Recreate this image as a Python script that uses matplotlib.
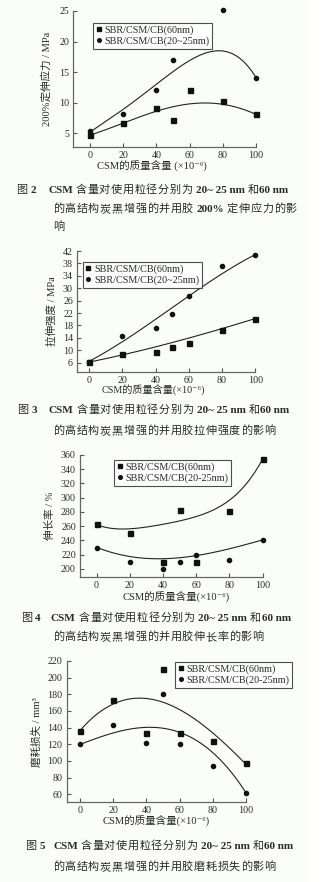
import numpy as np
import matplotlib
matplotlib.use("Agg")
import matplotlib.pyplot as plt
from matplotlib.patches import Rectangle

FAMILY = ['Liberation Serif', 'Noto Sans CJK SC', 'DejaVu Sans']
plt.rcParams['font.family'] = FAMILY

W, H = 331, 882

# ---- measured points: CSM content (x10^-6) vs property ----
# Fig 2: 200% modulus, MPa
mod_60_x = [0, 20, 40, 50, 60, 80, 100]
mod_60_y = [4.7, 6.7, 9.1, 7.1, 12.0, 10.3, 8.1]
mod_25_x = [0, 20, 40, 50, 80, 100]
mod_25_y = [5.3, 8.1, 12.0, 17.0, 25.1, 14.1]

# Fig 3: tensile strength, MPa
ts_60_x = [0, 20, 40, 50, 60, 80, 100]
ts_60_y = [6.3, 8.9, 9.3, 11.2, 12.5, 16.7, 20.1]
ts_25_x = [0, 20, 40, 50, 60, 80, 100]
ts_25_y = [6.3, 14.6, 17.3, 21.7, 27.5, 37.3, 40.6]

# Fig 4: elongation at break, %
el_60_x = [0, 20, 40, 50, 60, 80, 100]
el_60_y = [263, 250, 210, 283, 209, 282, 354]
el_25_x = [0, 20, 40, 50, 60, 80, 100]
el_25_y = [230, 209, 200, 210, 219, 213, 240]

# Fig 5: abrasion loss, mm^3
ab_60_x = [0, 20, 40, 50, 60, 80, 100]
ab_60_y = [136, 173, 134, 210, 134, 124, 97]
ab_25_x = [0, 20, 40, 50, 60, 80, 100]
ab_25_y = [120, 143, 121, 180, 120, 94, 61]

# ---- trend curves (values of the fitted curves) ----
fit2_60_x = [0, 20, 40, 50, 60, 70, 80, 90, 100]
fit2_60_y = [4.7, 6.7, 8.5, 9.4, 9.8, 10.0, 9.7, 9.1, 8.1]
fit2_25_x = [0, 20, 40, 50, 60, 70, 80, 90, 100]
fit2_25_y = [5.2, 8.8, 13.2, 15.1, 16.7, 18.1, 18.6, 17.3, 14.1]

fit3_60_x = [0, 20, 40, 60, 80, 100]
fit3_60_y = [6.2, 8.5, 11.2, 13.8, 17.1, 20.2]
fit3_25_x = [0, 20, 40, 50, 60, 80, 90, 100]
fit3_25_y = [6.3, 13.3, 19.7, 23.5, 27.5, 35.0, 38.0, 40.7]

fit4_60_x = [0, 20, 40, 50, 60, 70, 80, 90, 100]
fit4_60_y = [262, 257, 261.8, 266.4, 274.9, 282.8, 296.8, 317.9, 355]
fit4_25_x = [0, 20, 40, 60, 80, 100]
fit4_25_y = [230, 218.2, 213.6, 218.2, 229, 240.5]

fit5_60_x = [0, 20, 40, 50, 60, 80, 100]
fit5_60_y = [137, 167, 174.4, 172, 163.2, 131.2, 96.8]
fit5_25_x = [0, 20, 40, 60, 80, 100]
fit5_25_y = [120, 133.2, 140.4, 135.2, 109.2, 62]

fig = plt.figure(figsize=(W / 100, H / 100), dpi=100)
fig.patch.set_facecolor('white')
fig.add_artist(Rectangle((0, 0), 309 / W, 1, transform=fig.transFigure,
                         facecolor='#fbfdfb', edgecolor='none', zorder=-10))

TXT = '#2a2a2a'


def make_axes(l, r, t, b):
    return fig.add_axes([l / W, 1 - b / H, (r - l) / W, (b - t) / H])


def style(ax, xlim, ylim, yticks):
    ax.set_xlim(*xlim)
    ax.set_ylim(*ylim)
    ax.set_xticks([0, 20, 40, 60, 80, 100])
    ax.set_yticks(yticks)
    ax.patch.set_alpha(0)
    for s in ['top', 'right']:
        ax.spines[s].set_visible(False)
    for s in ['left', 'bottom']:
        ax.spines[s].set_color('#666666')
        ax.spines[s].set_linewidth(0.9)
    ax.spines['left'].set_bounds(ylim[0], yticks[-1])
    ax.spines['bottom'].set_bounds(xlim[0], 100)
    ax.tick_params(direction='in', length=3, width=0.8, colors='#555555',
                   labelsize=7.2, labelcolor=TXT, pad=3)


def draw(ax, xs, ys, fx, fy, marker, ms, deg=4):
    c = np.polyfit(fx, fy, deg)
    xx = np.linspace(0, 100, 200)
    ax.plot(xx, np.polyval(c, xx), color='#222222', lw=0.8, zorder=2)
    ax.plot(xs, ys, linestyle='none', marker=marker, ms=ms, color='#111111',
            zorder=3, clip_on=False)


def legend(ax, labels, loc, bbox):
    h1 = plt.Line2D([], [], ls='none', marker='s', ms=3.2, color='#111111')
    h2 = plt.Line2D([], [], ls='none', marker='o', ms=2.6, color='#111111')
    lg = ax.legend([h1, h2], labels, loc=loc, bbox_to_anchor=bbox,
                   bbox_transform=fig.transFigure, fontsize=7.3,
                   frameon=True, fancybox=False, handlelength=0.6,
                   handletextpad=0.3, borderpad=0.25, labelspacing=0.15,
                   borderaxespad=0)
    for t in lg.get_texts():
        t.set_color(TXT)
    lg.get_frame().set_edgecolor('#222222')
    lg.get_frame().set_linewidth(0.8)
    lg.get_frame().set_facecolor('white')


fig.canvas.draw()
RENDERER = fig.canvas.get_renderer()


def rainbow(segs, x, y, size=8.0, track=0.6):
    """Place text segments end to end on one baseline (pixel coords)."""
    cx = x
    for txt, bold in segs:
        pieces = [txt] if bold else list(txt)
        for p in pieces:
            if p == ' ':
                cx += 2.8
                continue
            t = fig.text(cx / W, 1 - y / H, p, ha='left', va='baseline',
                         fontsize=size, color=TXT,
                         fontweight='bold' if bold else 'normal')
            cx += t.get_window_extent(renderer=RENDERER).width
            if not bold:
                cx += track


XLAB = 'CSM的质量含量(×10⁻⁶)'

# ---------- Fig 2 ----------
ax1 = make_axes(73.3, 256, 11, 146.7)
draw(ax1, mod_60_x, mod_60_y, fit2_60_x, fit2_60_y, 's', 3.6)
draw(ax1, mod_25_x, mod_25_y, fit2_25_x, fit2_25_y, 'o', 3.0)
style(ax1, (-10, 100), (2.8, 25), [5, 10, 15, 20, 25])
ax1.set_ylabel('200%定伸应力 / MPa', fontsize=7.6, color=TXT, labelpad=5)
fig.text(152 / W, 1 - 166 / H, 'CSM的质量含量 (×10⁻⁶)', fontsize=7.6,
         ha='center', va='center', color=TXT)
legend(ax1, ['SBR/CSM/CB(60nm)', 'SBR/CSM/CB(20~25nm)'], 'upper left',
       (93 / W, 1 - 22.7 / H))

# ---------- Fig 3 ----------
ax2 = make_axes(77, 255.3, 251, 371.7)
draw(ax2, ts_60_x, ts_60_y, fit3_60_x, fit3_60_y, 's', 3.6, deg=3)
draw(ax2, ts_25_x, ts_25_y, fit3_25_x, fit3_25_y, 'o', 3.0, deg=3)
style(ax2, (-7.4, 100), (3.1, 42), [6, 10, 14, 18, 22, 26, 30, 34, 38, 42])
ax2.set_ylabel('拉伸强度 / MPa', fontsize=7.6, color=TXT, labelpad=4)
fig.text(153 / W, 1 - 389.5 / H, XLAB, fontsize=7.3,
         ha='center', va='center', color=TXT)
legend(ax2, ['SBR/CSM/CB(60nm)', 'SBR/CSM/CB(20~25nm)'], 'upper left',
       (82.7 / W, 1 - 261.7 / H))

# ---------- Fig 4 ----------
ax3 = make_axes(80, 262.7, 455, 576.7)
draw(ax3, el_60_x, el_60_y, fit4_60_x, fit4_60_y, 's', 3.6)
draw(ax3, el_25_x, el_25_y, fit4_25_x, fit4_25_y, 'o', 3.0, deg=3)
style(ax3, (-10, 100), (189, 360), [200, 220, 240, 260, 280, 300, 320, 340, 360])
ax3.set_ylabel('伸长率 / %', fontsize=7.6, color=TXT, labelpad=4)
fig.text(176 / W, 1 - 597 / H, XLAB, fontsize=7.6,
         ha='center', va='center', color=TXT)
legend(ax3, ['SBR/CSM/CB(60nm)', 'SBR/CSM/CB(20-25nm)'], 'upper left',
       (114 / W, 1 - 460 / H))

# ---------- Fig 5 ----------
ax4 = make_axes(66.7, 246, 661, 802.3)
draw(ax4, ab_60_x, ab_60_y, fit5_60_x, fit5_60_y, 's', 3.6, deg=3)
draw(ax4, ab_25_x, ab_25_y, fit5_25_x, fit5_25_y, 'o', 3.0, deg=3)
style(ax4, (-8, 100), (50.4, 220), [60, 80, 100, 120, 140, 160, 180, 200, 220])
ax4.set_ylabel('磨耗损失 / mm³', fontsize=7.6, color=TXT, labelpad=4)
fig.text(156 / W, 1 - 821 / H, XLAB, fontsize=7.6,
         ha='center', va='center', color=TXT)
legend(ax4, ['SBR/CSM/CB(60nm)', 'SBR/CSM/CB(20-25nm)'], 'upper left',
       (175 / W, 1 - 661.7 / H))

# ---------- captions ----------
head = [('CSM', True), (' 含量对使用粒径分别为 ', False), ('20~ 25 nm', True),
        (' 和', False), ('60 nm', True)]
rainbow([('图 ', False), ('2', True)], 16, 193)
rainbow(head, 48, 193)
rainbow([('的高结构炭黑增强的并用胶 ', False), ('200%', True),
         (' 定伸应力的影', False)], 53, 212)
rainbow([('响', False)], 53, 230)

rainbow([('图 ', False), ('3', True)], 16.7, 413)
rainbow(head, 49, 413)
rainbow([('的高结构炭黑增强的并用胶拉伸强度的影响', False)], 53, 434)

rainbow([('图 ', False), ('4', True)], 20.7, 621)
rainbow(head, 50.7, 621)
rainbow([('的高结构炭黑增强的并用胶伸长率的影响', False)], 53, 640)

rainbow([('图 ', False), ('5', True)], 25, 849)
rainbow(head, 53, 849)
rainbow([('的高结构炭黑增强的并用胶磨耗损失的影响', False)], 53, 870)

fig.savefig('out.png', dpi=100)
